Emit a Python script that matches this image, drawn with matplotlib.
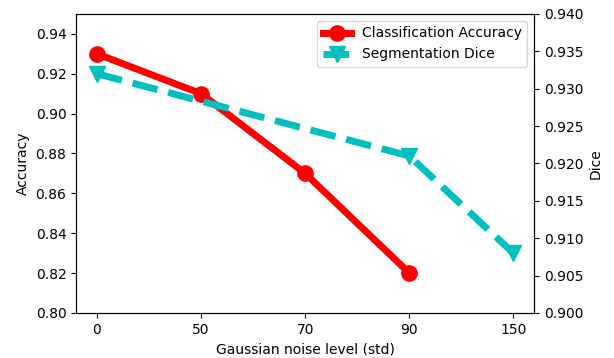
import matplotlib
matplotlib.use("Agg")
import matplotlib.pyplot as plt

noise_labels = ["0", "50", "70", "90", "150"]
acc_pos = [0, 1, 2, 3]
accuracy = [0.93, 0.91, 0.87, 0.82]
dice_pos = [0, 3, 4]
dice = [0.932, 0.921, 0.908]

fig, ax1 = plt.subplots(figsize=(6.14, 3.58), dpi=100)
fig.subplots_adjust(left=0.124, right=0.870, top=0.961, bottom=0.126)

l1, = ax1.plot(acc_pos, accuracy, "r-o", linewidth=5, markersize=11,
               label="Classification Accuracy")
ax1.set_ylim(0.80, 0.95)
ax1.set_yticks([0.80, 0.82, 0.84, 0.86, 0.88, 0.90, 0.92, 0.94])
ax1.set_ylabel("Accuracy")
ax1.set_xlabel("Gaussian noise level (std)")
ax1.set_xticks(range(len(noise_labels)))
ax1.set_xticklabels(noise_labels)
ax1.set_xlim(-0.2, 4.2)

ax2 = ax1.twinx()
l2, = ax2.plot(dice_pos, dice, "c--v", linewidth=5, markersize=11,
               label="Segmentation Dice")
ax2.set_ylim(0.900, 0.940)
ax2.set_yticks([0.900, 0.905, 0.910, 0.915, 0.920, 0.925, 0.930, 0.935, 0.940])
ax2.set_yticklabels(["%.3f" % v for v in ax2.get_yticks()])
ax2.set_ylabel("Dice")

ax2.legend(handles=[l1, l2], loc="upper right")

fig.savefig("out.png")
